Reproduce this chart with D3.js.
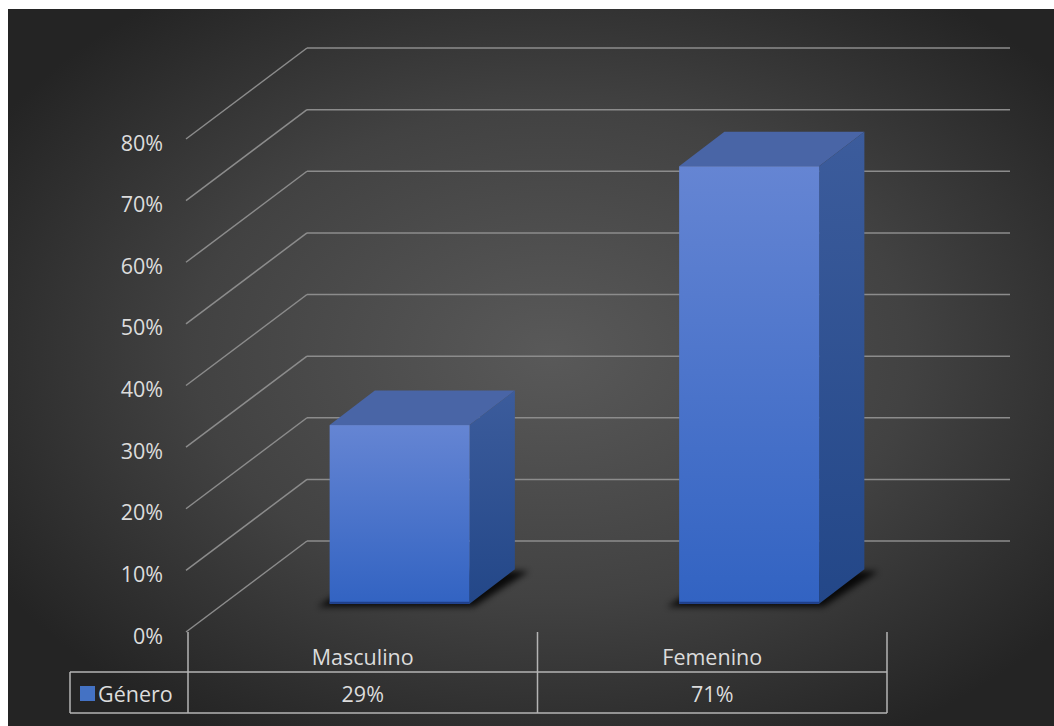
<!DOCTYPE html>
<html>
<head>
<meta charset="utf-8">
<script src="https://cdnjs.cloudflare.com/ajax/libs/d3/7.8.5/d3.min.js"></script>
<style>
  body { margin: 0; background: #fff; }
  svg text { font-family: "Open Sans", "Noto Sans", sans-serif; fill: #dcdcdc; }
</style>
</head>
<body>
<div id="chart"></div>
<script>
'use strict';

// data
var categories = ["Masculino", "Femenino"];
var values     = [0.29, 0.71];
var seriesName = "Género";
var tickValues = [0, 0.1, 0.2, 0.3, 0.4, 0.5, 0.6, 0.7, 0.8];

var svgWidth  = 1054,
    svgHeight = 726;

// 3D projection: depth vector of the floor/walls
var depth = { dx: 119, dy: -91 };
var barDepth = [0.31, 0.69];   // bar occupies this slice of the depth

var svg = d3.select("#chart")
    .append("svg")
    .attr("width", svgWidth)
    .attr("height", svgHeight);

var defs = svg.append("defs");

var bg = defs.append("radialGradient")
    .attr("id", "bg")
    .attr("cx", "52%").attr("cy", "48%").attr("r", "62%");
bg.append("stop").attr("offset", "0%").attr("stop-color", "#595959");
bg.append("stop").attr("offset", "55%").attr("stop-color", "#424242");
bg.append("stop").attr("offset", "100%").attr("stop-color", "#242424");

var front = defs.append("linearGradient")
    .attr("id", "barFront").attr("x1", 0).attr("y1", 0).attr("x2", 0).attr("y2", 1);
front.append("stop").attr("offset", "0%").attr("stop-color", "#6585d3");
front.append("stop").attr("offset", "100%").attr("stop-color", "#3263c2");

var side = defs.append("linearGradient")
    .attr("id", "barSide").attr("x1", 0).attr("y1", 0).attr("x2", 0).attr("y2", 1);
side.append("stop").attr("offset", "0%").attr("stop-color", "#3c5c9c");
side.append("stop").attr("offset", "100%").attr("stop-color", "#234788");

defs.append("filter")
    .attr("id", "blur")
    .attr("x", "-20%").attr("y", "-50%").attr("width", "140%").attr("height", "200%")
    .append("feGaussianBlur")
    .attr("stdDeviation", 3);

svg.append("rect")
    .attr("x", 8).attr("y", 9)
    .attr("width", svgWidth - 8).attr("height", svgHeight - 9)
    .attr("fill", "url(#bg)");

// scales on the front plane
var x = d3.scaleBand()
    .domain(categories)
    .range([188, 887]);

var y = d3.scaleLinear()
    .domain([0, 0.8])
    .range([632, 139]);

var gridRight = 1010;
var gridColor = "#8c8c8c";
var fontSize = "21.5px";

// back wall gridlines + left wall diagonals
var grid = svg.append("g");
grid.selectAll(".back")
    .data(tickValues)
    .enter().append("line")
    .attr("x1", x.range()[0] + depth.dx)
    .attr("x2", gridRight)
    .attr("y1", function(d) { return y(d) + depth.dy; })
    .attr("y2", function(d) { return y(d) + depth.dy; })
    .attr("stroke", gridColor)
    .attr("stroke-width", 1.5);

grid.selectAll(".side")
    .data(tickValues)
    .enter().append("line")
    .attr("x1", x.range()[0] - 2)
    .attr("y1", function(d) { return y(d); })
    .attr("x2", x.range()[0] + depth.dx)
    .attr("y2", function(d) { return y(d) + depth.dy; })
    .attr("stroke", gridColor)
    .attr("stroke-width", 1.5);

// tick labels
svg.append("g").selectAll("text")
    .data(tickValues)
    .enter().append("text")
    .attr("x", 163)
    .attr("y", function(d) { return y(d) + 4; })
    .attr("dy", "0.35em")
    .attr("text-anchor", "end")
    .style("font-size", fontSize)
    .text(d3.format(".0%"));

// bars
var barWidth = 140;
var bars = svg.append("g").selectAll(".bar")
    .data(categories.map(function(c, i) { return { cat: c, value: values[i] }; }))
    .enter().append("g")
    .attr("class", "bar");

function pts(arr) { return arr.map(function(p) { return p.join(","); }).join(" "); }

bars.each(function(d) {
    var g = d3.select(this);
    var f = barDepth[0], b = barDepth[1] - barDepth[0];
    var x0 = x(d.cat) + x.bandwidth() / 2 - barWidth / 2 + f * depth.dx,
        x1 = x0 + barWidth,
        yb = y(0) + f * depth.dy,
        yt = y(d.value) + f * depth.dy,
        ox = b * depth.dx,
        oy = b * depth.dy;

    // floor shadow
    g.append("polygon")
        .attr("points", pts([[x0 - 12, yb + 3], [x1 + 4, yb + 3], [x1 + ox + 14, yb + oy + 2], [x0 + ox, yb + oy]]))
        .attr("fill", "#000")
        .attr("opacity", 0.85)
        .attr("filter", "url(#blur)");

    // top
    g.append("polygon")
        .attr("points", pts([[x0, yt], [x1, yt], [x1 + ox, yt + oy], [x0 + ox, yt + oy]]))
        .attr("fill", "#4965a6");
    // side
    g.append("polygon")
        .attr("points", pts([[x1, yt], [x1 + ox, yt + oy], [x1 + ox, yb + oy], [x1, yb]]))
        .attr("fill", "url(#barSide)");
    // front
    g.append("rect")
        .attr("x", x0).attr("y", yt)
        .attr("width", barWidth).attr("height", yb - yt)
        .attr("fill", "url(#barFront)");
    g.append("line")
        .attr("x1", x0).attr("x2", x1)
        .attr("y1", yb - 1).attr("y2", yb - 1)
        .attr("stroke", "#1f3f8a").attr("stroke-width", 2);
});

// data table
var tableTop = 672, tableBottom = 713, legendLeft = 70;
var tableColor = "#b4b4b4";
var table = svg.append("g")
    .attr("stroke", tableColor)
    .attr("stroke-width", 1.5)
    .attr("fill", "none");

table.append("line")
    .attr("x1", legendLeft).attr("x2", x.range()[1])
    .attr("y1", tableTop).attr("y2", tableTop);
table.append("line")
    .attr("x1", legendLeft).attr("x2", x.range()[1])
    .attr("y1", tableBottom).attr("y2", tableBottom);
table.append("line")
    .attr("x1", legendLeft).attr("x2", legendLeft)
    .attr("y1", tableTop).attr("y2", tableBottom);

var dividers = [x.range()[0]].concat(categories.map(function(c) { return x(c) + x.bandwidth(); }));
table.selectAll(".div")
    .data(dividers)
    .enter().append("line")
    .attr("x1", function(d) { return d; })
    .attr("x2", function(d) { return d; })
    .attr("y1", y(0))
    .attr("y2", tableBottom);

svg.append("g").selectAll("text")
    .data(categories)
    .enter().append("text")
    .attr("x", function(d) { return x(d) + x.bandwidth() / 2; })
    .attr("y", 665)
    .attr("text-anchor", "middle")
    .style("font-size", fontSize)
    .text(function(d) { return d; });

svg.append("g").selectAll("text")
    .data(values)
    .enter().append("text")
    .attr("x", function(d, i) { return x(categories[i]) + x.bandwidth() / 2; })
    .attr("y", 702)
    .attr("text-anchor", "middle")
    .style("font-size", fontSize)
    .text(d3.format(".0%"));

// legend key
svg.append("rect")
    .attr("x", 80).attr("y", 686)
    .attr("width", 15).attr("height", 15)
    .attr("fill", "#4472c4");
svg.append("text")
    .attr("x", 98).attr("y", 702)
    .style("font-size", fontSize)
    .text(seriesName);
</script>
</body>
</html>
